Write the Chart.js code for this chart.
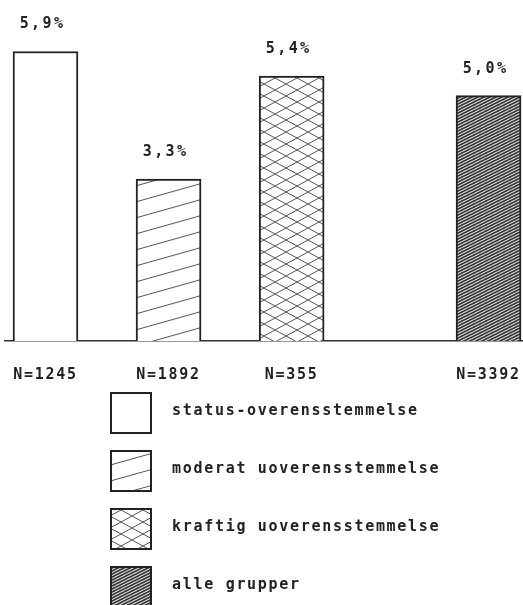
<!DOCTYPE html>
<html>
<head>
<meta charset="utf-8">
<script src="https://cdn.jsdelivr.net/npm/chart.js@4"></script>
<style>
  html, body { margin: 0; padding: 0; background: #fff; }
  #wrap { width: 523px; height: 605px; }
</style>
</head>
<body>
<div id="wrap"><canvas id="bars" width="523" height="605"></canvas></div>
<script>
// gruppeinndeling og andeler (%)
const categories = ['status-overensstemmelse', 'moderat uoverensstemmelse', 'kraftig uoverensstemmelse', 'alle grupper'];
const percentValues = [5.9, 3.3, 5.4, 5.0];
const valueLabels = ['5,9%', '3,3%', '5,4%', '5,0%'];
const nLabels = ['N=1245', 'N=1892', 'N=355', 'N=3392'];
const groupSlots = [1, 2, 3, 4.6]; // ekstra avstand før "alle grupper"

const INK = '#222';
const FONT = "'DejaVu Sans Mono', monospace";

// skravering som canvas-mønster
function hatch(w, h, bg, color, lw, dirs) {
  const c = document.createElement('canvas');
  c.width = w; c.height = h;
  const g = c.getContext('2d');
  g.fillStyle = bg;
  g.fillRect(0, 0, w, h);
  g.strokeStyle = color;
  g.lineWidth = lw;
  dirs.forEach((d) => {
    for (let k = -2; k <= 2; k++) {
      g.beginPath();
      if (d === 'up') { g.moveTo(-w, 2 * h + k * h); g.lineTo(2 * w, -h + k * h); }
      else { g.moveTo(-w, -h + k * h); g.lineTo(2 * w, 2 * h + k * h); }
      g.stroke();
    }
  });
  return g.createPattern(c, 'repeat');
}

const ctx = document.getElementById('bars').getContext('2d');
const fills = [
  '#ffffff',
  hatch(57, 16, '#ffffff', '#555', 1, ['up']),
  hatch(22, 12, '#ffffff', '#555', 1, ['up', 'down']),
  hatch(6, 3, '#ececec', '#333', 1.6, ['up']),
];

const spacing = {
  id: 'spacing',
  beforeUpdate: (chart) => { chart.ctx.letterSpacing = '1.7px'; },
  beforeDraw: (chart) => { chart.ctx.letterSpacing = '1.7px'; },
};

// prosent over søylene
const valueTags = {
  id: 'valueTags',
  afterDatasetsDraw(chart) {
    const c = chart.ctx;
    c.save();
    c.letterSpacing = '2.4px';
    c.font = 'bold 15px ' + FONT;
    c.fillStyle = INK;
    c.textAlign = 'center';
    c.textBaseline = 'middle';
    chart.getDatasetMeta(0).data.forEach((bar, i) => {
      c.fillText(valueLabels[i], bar.x - 3, bar.y - 27);
    });
    c.restore();
  },
};

// forklaring under diagrammet
const legendBoxes = {
  id: 'legendBoxes',
  afterDraw(chart) {
    const c = chart.ctx;
    c.save();
    c.letterSpacing = '1.7px';
    c.font = 'bold 15px ' + FONT;
    c.textBaseline = 'middle';
    categories.forEach((name, i) => {
      const top = 393 + i * 58;
      c.fillStyle = fills[i];
      c.fillRect(111, top, 40, 40);
      c.strokeStyle = INK;
      c.lineWidth = 2;
      c.strokeRect(111, top, 40, 40);
      c.fillStyle = INK;
      c.fillText(name, 172, top + 18);
    });
    c.restore();
  },
};

new Chart(ctx, {
  type: 'bar',
  data: {
    datasets: [{
      label: 'andel',
      data: groupSlots.map((x, i) => ({ x, y: percentValues[i] })),
      backgroundColor: fills,
      borderColor: INK,
      borderWidth: 2,
      barThickness: 65,
    }],
  },
  options: {
    responsive: false,
    animation: false,
    layout: { padding: { left: 5, right: 0, top: 0, bottom: 0 } },
    plugins: { legend: { display: false }, tooltip: { enabled: false } },
    scales: {
      x: {
        type: 'linear',
        offset: false,
        bounds: 'ticks',
        min: 0.671,
        max: 4.88,
        grid: { display: false, offset: false },
        border: { display: true, color: '#333', width: 1.5 },
        afterBuildTicks: (s) => { s.ticks = groupSlots.map((v) => ({ value: v })); },
        afterFit: (s) => { s.height = 264; s.paddingLeft = 0; s.paddingRight = 0; },
        ticks: {
          callback: (v, i) => nLabels[i],
          color: INK,
          font: { family: FONT, size: 15, weight: 'bold' },
          padding: 17,
          maxRotation: 0,
          autoSkip: false,
        },
      },
      y: { display: false, min: 0, max: 6.95 },
    },
  },
  plugins: [spacing, valueTags, legendBoxes],
});
</script>
</body>
</html>
